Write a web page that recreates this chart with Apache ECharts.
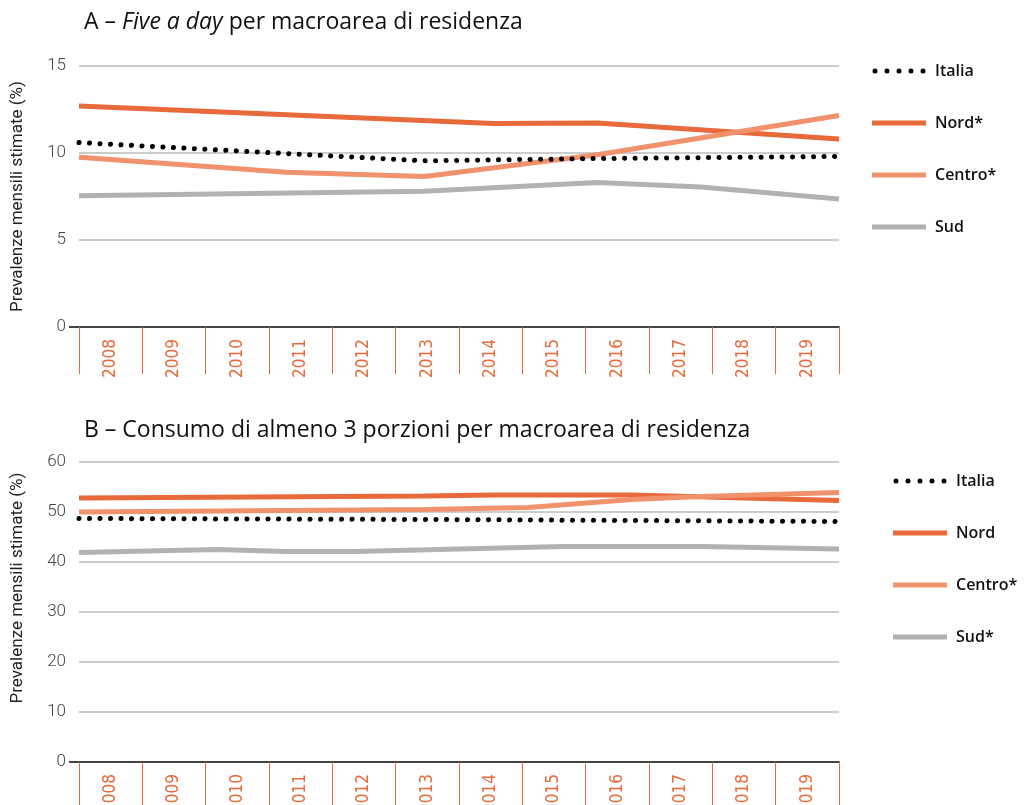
<!DOCTYPE html>
<html>
<head>
<meta charset="utf-8">
<script src="https://cdn.jsdelivr.net/npm/echarts@6/dist/echarts.min.js"></script>
<style>
  html, body { margin: 0; padding: 0; background: #fff; }
  #chart { width: 1024px; height: 805px; }
</style>
</head>
<body>
<div id="chart"></div>
<script>
// Survey years shown on both horizontal axes
const years = ['2008', '2009', '2010', '2011', '2012', '2013', '2014', '2015', '2016', '2017', '2018', '2019'];
const firstYear = 2008;
const lastYear = 2019;

// Panel A – "Five a day" (%), points as [year, value]
const fiveItaliaX = [2008, 2013, 2015.5, 2019];
const fiveItalia  = [10.6, 9.55, 9.68, 9.8];
const fiveNordX   = [2008, 2014, 2015.5, 2019];
const fiveNord    = [12.7, 11.7, 11.72, 10.8];
const fiveCentroX = [2008, 2011, 2013, 2015.5, 2019];
const fiveCentro  = [9.75, 8.9, 8.65, 9.9, 12.15];
const fiveSudX    = [2008, 2013, 2015.5, 2017, 2019];
const fiveSud     = [7.55, 7.8, 8.3, 8.05, 7.35];

// Panel B – at least 3 portions a day (%)
const treItaliaX = [2008, 2013, 2019];
const treItalia  = [48.7, 48.5, 48.1];
const treNordX   = [2008, 2013, 2014, 2016, 2019];
const treNord    = [52.8, 53.2, 53.4, 53.4, 52.3];
const treCentroX = [2008, 2013, 2014.5, 2016, 2017, 2019];
const treCentro  = [50.0, 50.5, 50.9, 52.5, 53.1, 53.9];
const treSudX    = [2008, 2010, 2011, 2012, 2015, 2017, 2019];
const treSud     = [41.9, 42.5, 42.1, 42.1, 43.1, 43.1, 42.6];

// Value axis ranges
const yMaxA = 15, yStepA = 5;
const yMaxB = 60, yStepB = 10;

// Legend entries
const legendA = ['Italia', 'Nord*', 'Centro*', 'Sud'];
const legendB = ['Italia', 'Nord', 'Centro*', 'Sud*'];

const titleA = ['A – ', 'Five a day', ' per macroarea di residenza'];
const titleB = 'B – Consumo di almeno 3 porzioni per macroarea di residenza';
const yName = 'Prevalenze mensili stimate (%)';

const FONT = 'Roboto, "Noto Sans", sans-serif';
const FONT_WIDE = '"Open Sans", "Noto Sans", sans-serif';
const FONT_NARROW = '"Liberation Sans Narrow", "DejaVu Sans Condensed", Roboto, sans-serif';
const C_NORD = '#e8693a';
const C_CENTRO = '#f0926c';
const C_SUD = '#b2b2b2';
const C_ITALIA = '#000000';
const C_AXIS = '#e8693a';

// Five round dots, used as the legend key of the dotted series
const DOTS_ICON = 'path://' + [2.5, 14.5, 26.5, 38.5, 50.5].map(function (cx) {
  return 'M' + (cx - 2.5) + ',2.5a2.5,2.5 0 1,0 5,0a2.5,2.5 0 1,0 -5,0Z';
}).join('');

const zip = (xs, ys) => xs.map((x, i) => [x, ys[i]]);

function lineSeries(name, xs, ys, color, xIdx, yIdx, dotted) {
  return {
    name: name,
    type: 'line',
    xAxisIndex: xIdx,
    yAxisIndex: yIdx,
    data: zip(xs, ys),
    symbol: 'none',
    silent: true,
    animation: false,
    itemStyle: { color: color },
    lineStyle: dotted
      ? { color: color, width: 5, type: [0.1, 10.4], cap: 'round' }
      : { color: color, width: 5, cap: 'butt' }
  };
}

function categoryAxis(gridIndex, tickLen) {
  return {
    type: 'category',
    gridIndex: gridIndex,
    data: years,
    boundaryGap: true,
    axisLine: { show: true, lineStyle: { color: '#444', width: 2 } },
    axisTick: { show: true, length: tickLen, lineStyle: { color: C_AXIS, width: 1 } },
    axisLabel: { rotate: 90, color: C_AXIS, fontSize: 17, fontFamily: FONT_NARROW, margin: 12, padding: [8, 0, 0, 0] },
    splitLine: { show: false }
  };
}

function hiddenValueX(gridIndex) {
  return { type: 'value', gridIndex: gridIndex, min: firstYear, max: lastYear, show: false };
}

function valueY(gridIndex, max, step, namePad) {
  return {
    type: 'value',
    gridIndex: gridIndex,
    min: 0,
    max: max,
    interval: step,
    name: yName,
    nameLocation: 'middle',
    nameRotate: 90,
    nameGap: 53,
    nameTextStyle: { fontSize: 17, color: '#222', fontFamily: FONT, padding: namePad },
    axisLine: { show: false },
    axisTick: { show: false },
    axisLabel: { color: '#444', fontSize: 17, fontWeight: 300, fontFamily: FONT, margin: 13 },
    splitLine: { show: true, lineStyle: { color: '#bdbdbd', width: 1.5 } }
  };
}

function legend(names, colors, left, top) {
  return {
    data: names.map(function (n, i) {
      return { name: n, icon: colors[i] === C_ITALIA ? DOTS_ICON : 'rect', itemStyle: { color: colors[i] } };
    }),
    orient: 'vertical',
    left: left,
    top: top,
    itemWidth: 54,
    itemHeight: 5,
    itemGap: 32,
    selectedMode: false,
    textStyle: { fontSize: 16, fontWeight: 600, color: '#111', fontFamily: FONT_WIDE, lineHeight: 20, padding: [0, 0, 0, 4] }
  };
}

const legendColors = [C_ITALIA, C_NORD, C_CENTRO, C_SUD];

const chart = echarts.init(document.getElementById('chart'), null, { renderer: 'canvas' });

const option = {
  backgroundColor: '#fff',
  animation: false,
  title: [
    {
      left: 79,
      top: 6,
      text: '{n|' + titleA[0] + '}{i|' + titleA[1] + '}{n|' + titleA[2] + '}',
      textStyle: {
        rich: {
          n: { fontSize: 23, color: '#111', fontFamily: FONT_WIDE, fontWeight: 500 },
          i: { fontSize: 23, color: '#111', fontFamily: FONT_WIDE, fontWeight: 500, fontStyle: 'italic' }
        }
      }
    },
    {
      left: 79,
      top: 414,
      text: titleB,
      textStyle: { fontSize: 23, color: '#111', fontFamily: FONT_WIDE, fontWeight: 500 }
    }
  ],
  legend: [legend(legendA, legendColors, 867, 56), legend(legendB, legendColors, 888, 466)],
  grid: [
    { left: 79, right: 185, top: 66, height: 261, outerBoundsMode: 'none', containLabel: false },
    { left: 79, right: 185, top: 462, height: 300, outerBoundsMode: 'none', containLabel: false }
  ],
  xAxis: [categoryAxis(0, 47), hiddenValueX(0), categoryAxis(1, 50), hiddenValueX(1)],
  yAxis: [valueY(0, yMaxA, yStepA, 0), valueY(1, yMaxB, yStepB, [0, 0, 0, 48])],
  series: [
    lineSeries('Nord*', fiveNordX, fiveNord, C_NORD, 1, 0, false),
    lineSeries('Centro*', fiveCentroX, fiveCentro, C_CENTRO, 1, 0, false),
    lineSeries('Sud', fiveSudX, fiveSud, C_SUD, 1, 0, false),
    lineSeries('Italia', fiveItaliaX, fiveItalia, C_ITALIA, 1, 0, true),
    lineSeries('Nord', treNordX, treNord, C_NORD, 3, 1, false),
    lineSeries('Centro*', treCentroX, treCentro, C_CENTRO, 3, 1, false),
    lineSeries('Sud*', treSudX, treSud, C_SUD, 3, 1, false),
    lineSeries('Italia', treItaliaX, treItalia, C_ITALIA, 3, 1, true)
  ]
};

chart.setOption(option);

// Extend each baseline a little to the left of the plot area
const stubs = [0, 1].map(function (i) {
  const y = chart.convertToPixel({ yAxisIndex: i }, 0);
  const x = chart.convertToPixel({ xAxisIndex: i * 2 + 1 }, firstYear);
  return {
    type: 'line',
    silent: true,
    shape: { x1: x - 10, y1: y, x2: x, y2: y },
    style: { stroke: '#444', lineWidth: 2 }
  };
});
chart.setOption({ graphic: stubs });
</script>
</body>
</html>
